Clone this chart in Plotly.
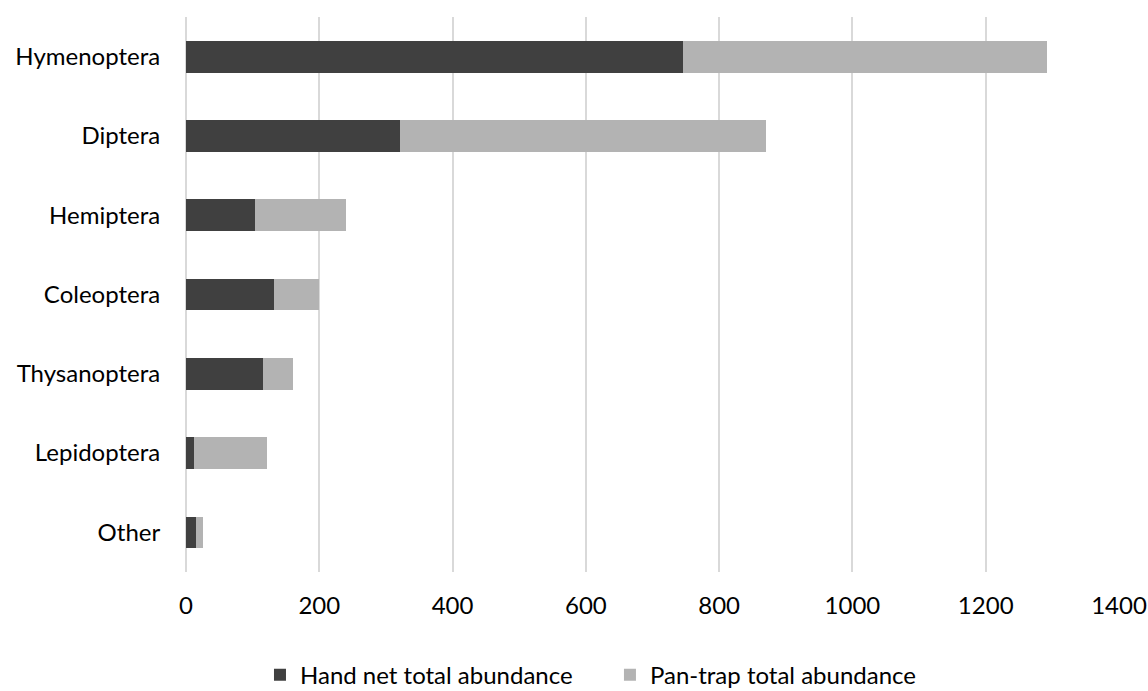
import plotly.graph_objects as go

categories = ["Hymenoptera", "Diptera", "Hemiptera", "Coleoptera", "Thysanoptera", "Lepidoptera", "Other"]
hand_net = [746, 321, 104, 132, 115, 12, 15]
pan_trap = [546, 550, 136, 68, 46, 109, 10]
x_ticks = [0, 200, 400, 600, 800, 1000, 1200, 1400]

FONT = "Lato"

fig = go.Figure()
fig.add_trace(go.Bar(
    y=categories, x=hand_net, orientation="h",
    name="Hand net total abundance",
    marker=dict(color="#404040", line=dict(width=0)),
    legend="legend",
))
fig.add_trace(go.Bar(
    y=categories, x=pan_trap, orientation="h",
    name="Pan-trap total abundance",
    marker=dict(color="#b3b3b3", line=dict(width=0)),
    legend="legend2",
))

leg_common = dict(
    orientation="h",
    xanchor="left",
    y=-0.186, yanchor="middle",
    font=dict(family=FONT, size=24, color="#000000"),
    bgcolor="rgba(0,0,0,0)",
)

fig.update_layout(
    barmode="stack",
    bargap=0.6,
    width=1148, height=691,
    margin=dict(l=186, r=29, t=17, b=119, autoexpand=False),
    plot_bgcolor="white", paper_bgcolor="white",
    font=dict(family=FONT, size=24, color="#000000"),
    showlegend=True,
    legend=dict(x=0.0793, **leg_common),
    legend2=dict(x=0.4544, **leg_common),
    xaxis=dict(
        range=[0, 1400],
        tickvals=x_ticks,
        ticktext=[str(v) for v in x_ticks],
        showgrid=True, gridcolor="#d9d9d9", gridwidth=2,
        zeroline=True, zerolinecolor="#d9d9d9", zerolinewidth=2,
        showline=False,
        ticks="outside", ticklen=12, tickcolor="rgba(0,0,0,0)",
        tickfont=dict(family=FONT, size=24),
        fixedrange=True,
        automargin=False,
    ),
    yaxis=dict(
        categoryorder="array", categoryarray=categories,
        autorange="reversed",
        showgrid=False, showline=False, zeroline=False,
        ticks="outside", ticklen=20, tickcolor="rgba(0,0,0,0)",
        tickfont=dict(family=FONT, size=24),
        fixedrange=True,
        automargin=False,
    ),
)

fig.write_html("out.html")
